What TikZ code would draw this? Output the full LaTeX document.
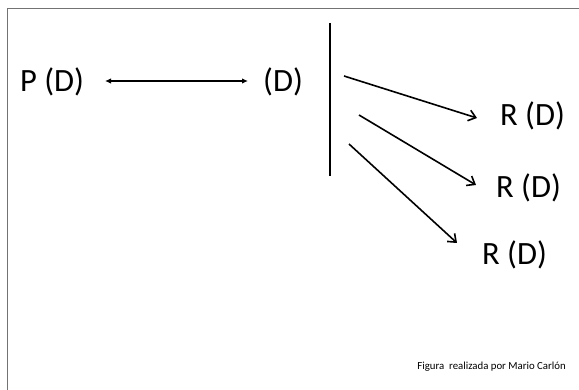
\documentclass[tikz,border=0pt]{standalone}
\usepackage{fontspec}
\setmainfont{Carlito}
\usetikzlibrary{arrows.meta}
\begin{document}
\begin{tikzpicture}[x=1pt,y=-1pt,
  lbl/.style={anchor=base west,inner sep=0pt,font=\fontsize{32.5}{38}\selectfont},
  foot/.style={anchor=base east,inner sep=0pt,font=\fontsize{10.8}{12}\selectfont},
  frame/.style={draw=gray!90!black,line width=1.6pt},
  dbl/.style={line width=1.4pt,{Latex[length=6pt,width=5.5pt]}-{Latex[length=6pt,width=5.5pt]}},
  ray/.style={line width=1.6pt,-{Straight Barb[length=7pt,width=11pt,line width=1.6pt]}},
  bar/.style={line width=2pt}]
\useasboundingbox (0,0) rectangle (579,390);
\fill[white] (0,0) rectangle (579,390);
\draw[frame] (7.5,390) -- (7.5,8.5) -- (579,8.5);
\node[lbl] (pd) at (20,92) {P (D)};
\node[lbl] (d) at (263,92) {(D)};
\node[lbl] (r1) at (500,126) {R (D)};
\node[lbl] (r2) at (496,198) {R (D)};
\node[lbl] (r3) at (482,265) {R (D)};
\node[foot] (ft) at (566,370) {Figura\ \ realizada por Mario Carlón};
\coordinate (a1) at (105,81);
\coordinate (a2) at (248,81);
\draw[dbl] (a1) -- (a2);
\coordinate (vt) at (330,23);
\coordinate (vb) at (330,176);
\draw[bar] (vt) -- (vb);
\coordinate (s1) at (344,76);
\coordinate (e1) at (477,118);
\coordinate (s2) at (359,115);
\coordinate (e2) at (476,185);
\coordinate (s3) at (349,144);
\coordinate (e3) at (457,243);
\draw[ray] (s1) -- (e1);
\draw[ray] (s2) -- (e2);
\draw[ray] (s3) -- (e3);
\end{tikzpicture}
\end{document}
